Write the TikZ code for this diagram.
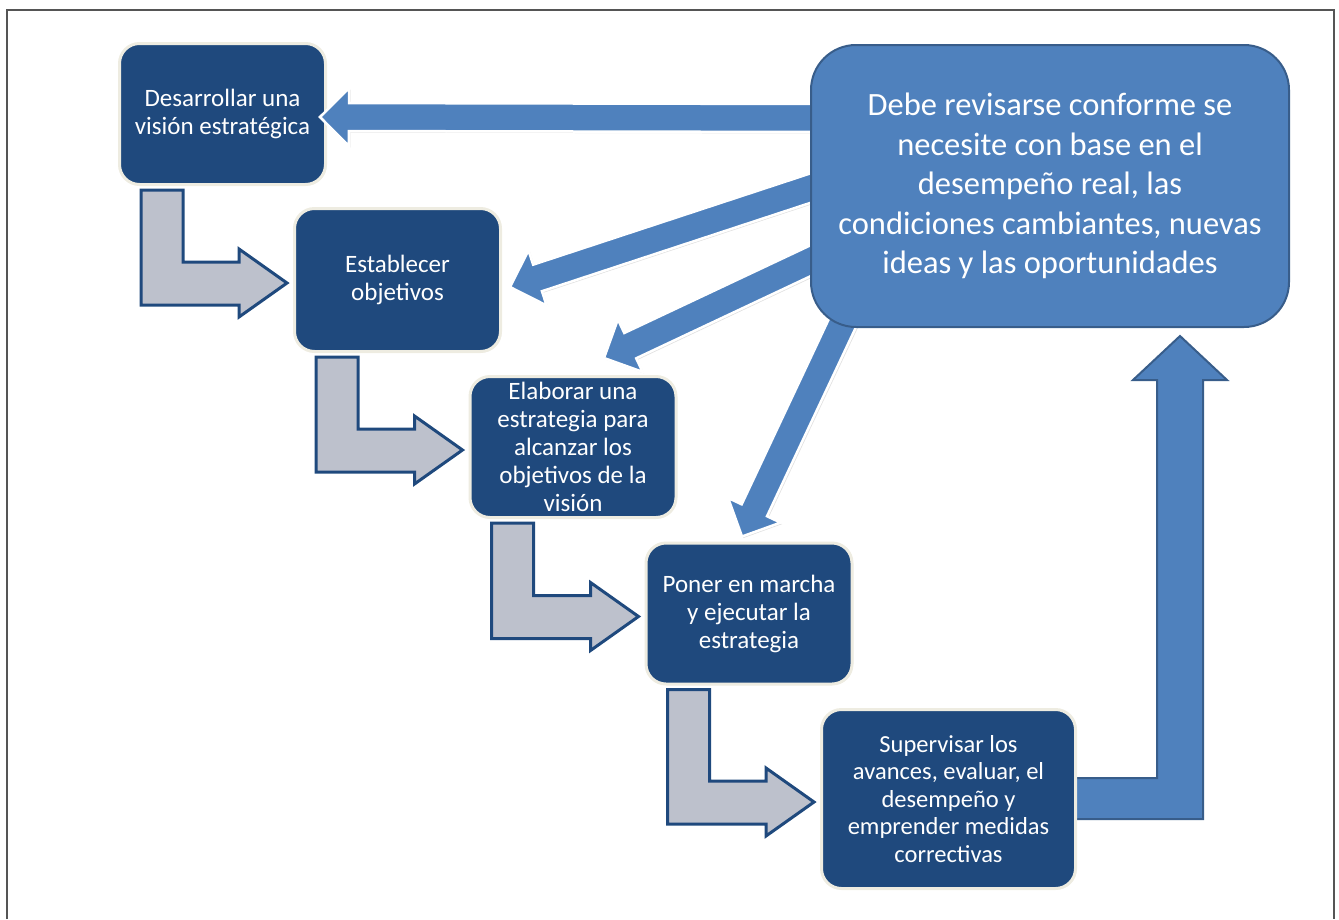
\documentclass[tikz,border=0pt]{standalone}
\usepackage{fontspec}
\setmainfont{Carlito}
\usetikzlibrary{calc,shadows}

\definecolor{azuloscuro}{RGB}{31,73,125}
\definecolor{azulclaro}{RGB}{79,129,189}
\definecolor{azulborde}{RGB}{56,93,138}
\definecolor{crema}{RGB}{238,236,225}
\definecolor{grisflecha}{RGB}{189,193,204}
\definecolor{marco}{RGB}{85,85,85}

\pgfdeclarelayer{fondo}
\pgfdeclarelayer{frente}
\pgfsetlayers{fondo,main,frente}

\newcommand{\flechagris}[2]{%
    \coordinate (fa) at ($(#1.south west)+(23,4)$);
    \coordinate (fb) at ($(#2.west)+(-6,3)$);
    \draw[flechagris] (fa) -- ($(fa |- fb)+(0,22)$) -- ($(fb)+(-48,22)$) -- ($(fb)+(-48,34)$) -- (fb)
        -- ($(fb)+(-48,-34)$) -- ($(fb)+(-48,-21)$) -- ($(fa |- fb)+(42,-21)$) -- ($(fa)+(42,0)$) -- cycle;
}
\newcommand{\flechaazul}[2]{%
    \coordinate (fh) at ($(#2)!29pt!(#1)$);
    \draw[flechaazul] ($(#1)!14pt!90:(#2)$) -- ($(fh)!14pt!90:(#2)$) -- ($(fh)!29pt!90:(#2)$) -- (#2)
        -- ($(fh)!29pt!-90:(#2)$) -- ($(fh)!14pt!-90:(#2)$) -- ($(#1)!14pt!-90:(#2)$) -- cycle;
}

\begin{document}
\begin{tikzpicture}[x=1pt,y=-1pt,
    paso/.style={rectangle, rounded corners=20pt, fill=azuloscuro, draw=crema, line width=3pt,
        text=white, align=center, inner sep=0pt, minimum width=206pt, minimum height=141pt,
        font=\fontsize{25}{28}\selectfont, drop shadow={opacity=0.15, shadow xshift=1pt, shadow yshift=-1pt}},
    flechagris/.style={fill=grisflecha, draw=azuloscuro, line width=3pt, line join=miter},
    flechaazul/.style={fill=azulclaro, draw=white, line width=2.5pt, line join=miter,
        drop shadow={opacity=0.25, shadow xshift=1.5pt, shadow yshift=-1.5pt}},
    flechabloque/.style={fill=azulclaro, draw=azulborde, line width=2pt, line join=miter}]

    \useasboundingbox (0,0) rectangle (1339,919);
    \draw[marco, line width=2.5pt] (7,919) -- (7,10) -- (1334,10) -- (1334,919);

    \node[paso] (vision) at (222.5,114) {Desarrollar una\\visión estratégica};
    \node[paso, minimum height=143pt] (objetivos) at (397.5,280) {Establecer\\objetivos};
    \node[paso] (estrategia) at (573,447) {Elaborar una\\estrategia para\\alcanzar los\\objetivos de la\\visión};
    \node[paso] (ejecutar) at (749,613.5) {Poner en marcha\\y ejecutar la\\estrategia};
    \node[paso, minimum width=254pt, minimum height=179pt, font=\fontsize{24.5}{27.5}\selectfont] (supervisar) at (948.5,799)
        {Supervisar los\\avances, evaluar, el\\desempeño y\\emprender medidas\\correctivas};

    \begin{pgfonlayer}{frente}
        \node[rectangle, rounded corners=45pt, fill=azulclaro, draw=azulborde, line width=2pt,
            text=white, align=center, inner sep=0pt, minimum width=478pt, minimum height=282pt,
            font=\fontsize{32.5}{39.5}\selectfont] (revision) at (1050,186)
            {Debe revisarse conforme se\\necesite con base en el\\desempeño real, las\\condiciones cambiantes, nuevas\\ideas y las oportunidades};
    \end{pgfonlayer}

    \begin{pgfonlayer}{fondo}
        \flechagris{vision}{objetivos}
        \flechagris{objetivos}{estrategia}
        \flechagris{estrategia}{ejecutar}
        \flechagris{ejecutar}{supervisar}
        \coordinate (tipo) at ($(revision.south east)+(-110,8)$);
        \draw[flechabloque] ($(supervisar.east)+(-6,-21)$) -- ($(tipo |- supervisar.east)+(-23,-21)$)
            -- ($(tipo)+(-23,44)$) -- ($(tipo)+(-47,44)$) -- (tipo) -- ($(tipo)+(47,44)$)
            -- ($(tipo)+(23,44)$) -- ($(tipo |- supervisar.east)+(23,20)$) -- ($(supervisar.east)+(-6,20)$) -- cycle;
    \end{pgfonlayer}

    \coordinate (c0) at ($(revision.west)+(20,-68)$);
    \coordinate (c1) at ($(revision.west)+(19,-4)$);
    \coordinate (c2) at ($(revision.west)+(18,66.5)$);
    \coordinate (c3) at ($(revision.south west)+(39.5,-20)$);
    \coordinate (p0) at ($(vision.east)+(-7,3)$);
    \coordinate (p1) at ($(objetivos.east)+(8,7)$);
    \coordinate (p2) at ($(estrategia.north)+(31,-17)$);
    \coordinate (p3) at ($(ejecutar.north)+(-7,-5)$);
    \flechaazul{c0}{p0}
    \flechaazul{c1}{p1}
    \flechaazul{c2}{p2}
    \flechaazul{c3}{p3}
\end{tikzpicture}
\end{document}
